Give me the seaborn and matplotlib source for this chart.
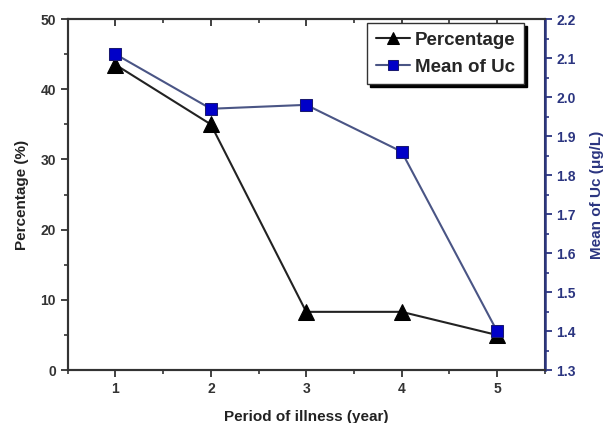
import matplotlib
matplotlib.use("Agg")
import matplotlib.pyplot as plt
import seaborn as sns
import pandas as pd
from matplotlib.ticker import MultipleLocator

period = [1, 2, 3, 4, 5]
percentage = [43.5, 35.0, 8.3, 8.3, 5.0]
mean_uc = [2.11, 1.97, 1.98, 1.86, 1.40]

sns.set_style("ticks")
plt.rcParams['font.family'] = ['Liberation Sans', 'DejaVu Sans']
plt.rcParams['font.weight'] = 'bold'

df = pd.DataFrame({"period": period, "percentage": percentage, "uc": mean_uc})

fig = plt.figure(figsize=(6.1, 4.23), dpi=100)
ax = fig.add_axes([0.111, 0.125, 0.782, 0.830])
ax2 = ax.twinx()

navy = "#2b3580"
sns.lineplot(data=df, x="period", y="percentage", ax=ax, color="#222222", lw=1.5,
             marker="^", markersize=11, markerfacecolor="black", markeredgecolor="black",
             label="Percentage", legend=False)
sns.lineplot(data=df, x="period", y="uc", ax=ax2, color="#4a5585", lw=1.5,
             marker="s", markersize=8.5, markerfacecolor="#0000c8", markeredgecolor="#1a1a70",
             label="Mean of Uc", legend=False)

ax.set_xlim(0.5, 5.5)
ax.set_ylim(0, 50)
ax2.set_ylim(1.3, 2.2)
ax.set_xticks(period)
ax.xaxis.set_minor_locator(MultipleLocator(0.5))
ax.yaxis.set_major_locator(MultipleLocator(10))
ax.yaxis.set_minor_locator(MultipleLocator(5))
ax2.yaxis.set_minor_locator(MultipleLocator(0.05))
ax2.set_yticks([1.3 + 0.1 * i for i in range(10)])
ax2.set_yticklabels([f"{1.3 + 0.1 * i:.1f}" for i in range(10)])

for a in (ax, ax2):
    for s in a.spines.values():
        s.set_visible(True)
        s.set_linewidth(1.5)
        s.set_color("#333333")
ax2.spines["right"].set_color(navy)
ax2.spines["right"].set_linewidth(1.8)

ax.tick_params(axis="both", which="major", direction="out", length=5, width=1.3,
               labelsize=10, colors="#333333", labelcolor="#333333")
ax.tick_params(axis="both", which="minor", direction="out", length=3, width=1.2,
               colors="#333333")
ax.tick_params(axis="x", which="both", top=True, labeltop=False)
for t in ax.xaxis.get_major_ticks() + ax.xaxis.get_minor_ticks():
    t.tick2line.set_marker(3)  # inward on top
ax2.tick_params(axis="y", which="major", direction="out", length=5, width=1.3,
                labelsize=10, colors=navy, labelcolor=navy)
ax2.tick_params(axis="y", which="minor", direction="out", length=3, width=1.2, colors=navy)

for lbl in ax.get_xticklabels() + ax.get_yticklabels() + ax2.get_yticklabels():
    lbl.set_fontweight("bold")

ax.set_xlabel("Period of illness (year)", fontsize=11, fontweight="bold", color="#222222", labelpad=10)
ax.set_ylabel("Percentage (%)", fontsize=11, fontweight="bold", color="#222222", labelpad=8)
ax2.set_ylabel("Mean of Uc (μg/L)", fontsize=11, fontweight="bold", color=navy, labelpad=10)

h1, l1 = ax.get_legend_handles_labels()
h2, l2 = ax2.get_legend_handles_labels()
leg = ax2.legend(h1 + h2, l1 + l2, loc="upper right", bbox_to_anchor=(0.965, 0.998),
                 frameon=True, fancybox=False, shadow={"color": "black", "alpha": 1},
                 edgecolor="#333333", prop={"weight": "bold", "size": 13.5},
                 handlelength=1.8, borderpad=0.45, labelspacing=0.5, handletextpad=0.3,
                 borderaxespad=0.2, markerscale=0.8)
leg.get_frame().set_linewidth(1.0)

fig.savefig("out.png", dpi=100)
